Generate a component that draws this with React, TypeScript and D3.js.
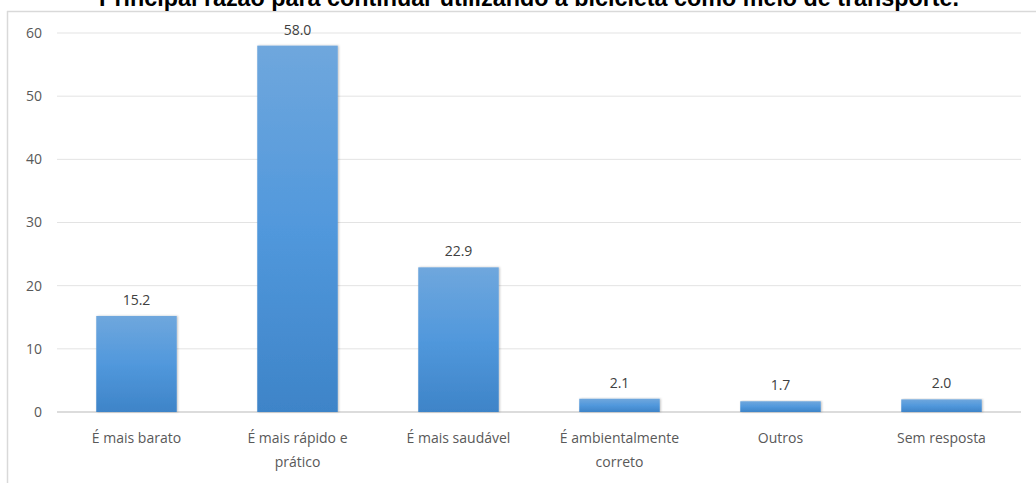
import React from "react";
import * as d3 from "d3";

const title = "Principal razão para continuar utilizando a bicicleta como meio de transporte.";
const categories: string[][] = [
  ["É mais barato"],
  ["É mais rápido e", "prático"],
  ["É mais saudável"],
  ["É ambientalmente", "correto"],
  ["Outros"],
  ["Sem resposta"],
];
const values = [15.2, 58.0, 22.9, 2.1, 1.7, 2.0];
const yTicks = [0, 10, 20, 30, 40, 50, 60];

const W = 1036;
const H = 483;

export default function App() {
  const x = d3
    .scaleBand<number>()
    .domain(d3.range(values.length))
    .range([56, 1022])
    .paddingInner(0.5)
    .paddingOuter(0.25);
  const y = d3.scaleLinear().domain([0, 60]).range([412, 33]);
  const font = "'Open Sans', 'Noto Sans', sans-serif";
  const textColor = "#595959";

  return (
    <div style={{ position: "fixed", left: 0, top: 0, width: W, height: H, background: "#fff" }}>
      <svg width={W} height={H} style={{ display: "block" }}>
        <defs>
          <linearGradient id="barGrad" x1="0" y1="0" x2="0" y2="1">
            <stop offset="0%" stopColor="#6fa7dd" />
            <stop offset="50%" stopColor="#5198dc" />
            <stop offset="100%" stopColor="#3e84c8" />
          </linearGradient>
          <filter id="shadow" x="-10%" y="-10%" width="120%" height="120%">
            <feDropShadow dx="1" dy="0" stdDeviation="1" floodColor="#000" floodOpacity="0.25" />
          </filter>
        </defs>
        <rect x={0} y={0} width={W} height={H} fill="#fff" />
        {/* chart frame */}
        <line x1={7} y1={11.5} x2={W} y2={11.5} stroke="#d9d9d9" strokeWidth={1.5} />
        <line x1={7.5} y1={11} x2={7.5} y2={H} stroke="#d9d9d9" strokeWidth={1.5} />
        {/* title (clipped at top, as in the reference) */}
        <text
          x={529}
          y={6}
          textAnchor="middle"
          fontFamily="'Liberation Sans', Arial, sans-serif"
          fontWeight="bold"
          fontSize={23}
          textLength={860}
          lengthAdjust="spacingAndGlyphs"
          fill="#000"
        >
          {title}
        </text>
        {/* gridlines */}
        {yTicks.map((t) => (
          <line
            key={t}
            x1={57}
            x2={1021}
            y1={y(t)}
            y2={y(t)}
            stroke={t === 0 ? "#d0d0d0" : "#e3e3e3"}
            strokeWidth={t === 0 ? 1.5 : 1}
          />
        ))}
        {yTicks.map((t) => (
          <text
            key={"l" + t}
            x={42}
            y={y(t)}
            dy="0.35em"
            textAnchor="end"
            fontFamily={font}
            fontSize={14}
            fill={textColor}
          >
            {t}
          </text>
        ))}
        {values.map((v, i) => (
          <g key={i}>
            <rect
              x={x(i)!}
              y={y(v)}
              width={x.bandwidth()}
              height={y(0) - y(v)}
              fill="url(#barGrad)"
              filter="url(#shadow)"
            />
            <text
              x={x(i)! + x.bandwidth() / 2}
              y={y(v) - 11}
              textAnchor="middle"
              fontFamily={font}
              fontSize={14}
              fill="#404040"
            >
              {v.toFixed(1)}
            </text>
            {categories[i].map((line, j) => (
              <text
                key={j}
                x={x(i)! + x.bandwidth() / 2}
                y={443 + j * 24}
                textAnchor="middle"
                fontFamily={font}
                fontSize={14}
                fill={textColor}
              >
                {line}
              </text>
            ))}
          </g>
        ))}
      </svg>
    </div>
  );
}
